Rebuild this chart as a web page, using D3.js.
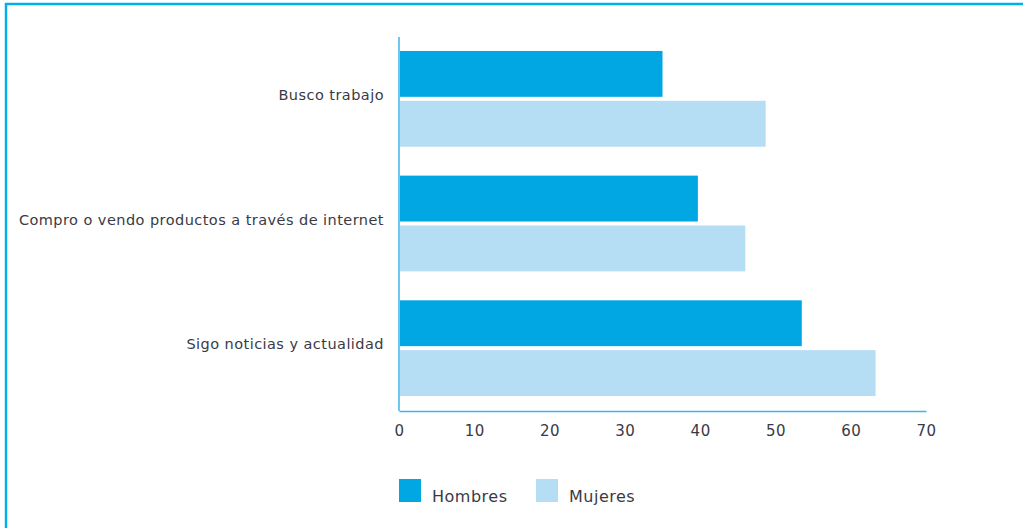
<!DOCTYPE html>
<html>
<head>
<meta charset="utf-8">
<script src="https://cdn.jsdelivr.net/npm/d3@7"></script>
<style>
  body { margin: 0; background: #fff; }
  svg { display: block; font-family: "DejaVu Sans", sans-serif; }
</style>
</head>
<body>
<div id="vis"></div>
<script>
// Data
var categories = ['Busco trabajo', 'Compro o vendo productos a través de internet', 'Sigo noticias y actualidad'];
var seriesNames = ['Hombres', 'Mujeres'];
var hombres = [35, 39.7, 53.5];
var mujeres = [48.7, 46, 63.3];
var xTicks = [0, 10, 20, 30, 40, 50, 60, 70];

var width = 1023;
var height = 528;
var colors = { Hombres: '#00a7e3', Mujeres: '#b5ddf4' };
var axisColor = '#3bb6e8';
var textColor = '#3a3a45';

var rows = categories.map(function (c, i) {
  return { category: c, Hombres: hombres[i], Mujeres: mujeres[i] };
});

var svg = d3.select('#vis').append('svg')
  .attr('width', width)
  .attr('height', height);

// frame
svg.append('rect')
  .attr('x', 6)
  .attr('y', 4)
  .attr('width', width + 20)
  .attr('height', height + 20)
  .attr('fill', 'none')
  .attr('stroke', '#00b1e9')
  .attr('stroke-width', 2.5);

var x = d3.scaleLinear()
  .domain([0, 70])
  .range([399, 926]);

var y = d3.scaleBand()
  .domain(categories)
  .range([36, 411])
  .paddingInner(0.232)
  .paddingOuter(0.12);

var ySub = d3.scaleBand()
  .domain(seriesNames)
  .range([0, y.bandwidth()])
  .paddingInner(0.08);

var groups = svg.selectAll('.group').data(rows)
  .enter().append('g')
  .attr('class', 'group')
  .attr('transform', function (d) { return 'translate(0,' + y(d.category) + ')'; });

groups.selectAll('rect')
  .data(function (d) { return seriesNames.map(function (s) { return { key: s, value: d[s] }; }); })
  .enter().append('rect')
  .attr('x', x(0) + 1)
  .attr('y', function (d) { return ySub(d.key); })
  .attr('width', function (d) { return x(d.value) - x(0) - 1; })
  .attr('height', ySub.bandwidth())
  .attr('fill', function (d) { return colors[d.key]; });

// category labels
svg.selectAll('.cat-label').data(categories)
  .enter().append('text')
  .attr('class', 'cat-label')
  .attr('x', 384)
  .attr('y', function (d) { return y(d) + y.bandwidth() / 2 - 4; })
  .attr('dy', '0.35em')
  .attr('text-anchor', 'end')
  .attr('fill', textColor)
  .style('font-size', '14.5px')
  .style('letter-spacing', '0.45px')
  .text(function (d) { return d; });

// axes
var xAxis = d3.axisBottom(x).tickValues(xTicks).tickSize(0).tickPadding(14);
var gx = svg.append('g')
  .attr('transform', 'translate(0,411)')
  .call(xAxis);
gx.select('.domain').attr('stroke', axisColor).attr('stroke-width', 1.5);
gx.selectAll('text')
  .attr('fill', textColor)
  .style('font-size', '15px')
  .style('letter-spacing', '0.5px')
  .style('font-family', '"DejaVu Sans", sans-serif');

svg.append('line')
  .attr('x1', x(0))
  .attr('x2', x(0))
  .attr('y1', 37)
  .attr('y2', 411)
  .attr('stroke', axisColor)
  .attr('stroke-width', 1.5);

// legend
var legend = svg.selectAll('.legend').data(seriesNames)
  .enter().append('g')
  .attr('class', 'legend')
  .attr('transform', function (d, i) { return 'translate(' + (399 + i * 137) + ',479)'; });

legend.append('rect')
  .attr('width', 22)
  .attr('height', 23)
  .attr('fill', function (d) { return colors[d]; });

legend.append('text')
  .attr('x', 33)
  .attr('y', 17)
  .attr('dy', '0.35em')
  .attr('fill', textColor)
  .style('font-size', '16px')
  .style('letter-spacing', '0.5px')
  .text(function (d) { return d; });
</script>
</body>
</html>
